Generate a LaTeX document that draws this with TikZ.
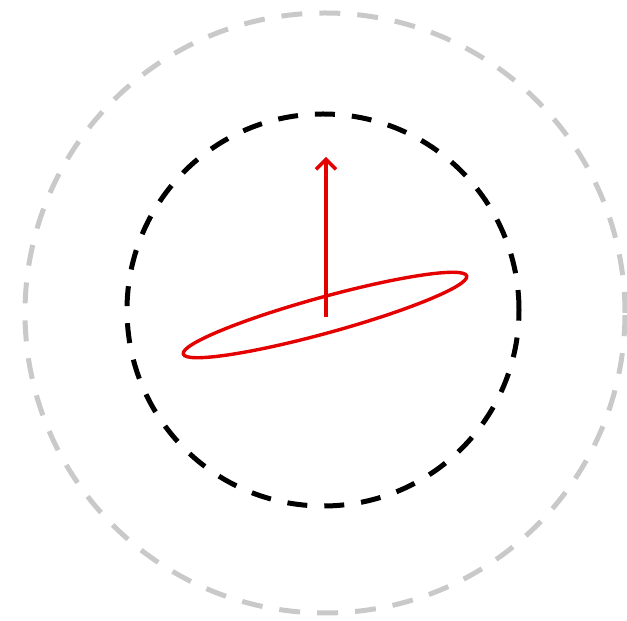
\documentclass[tikz,border=0pt]{standalone}
\usepackage{tikz}
\usetikzlibrary{arrows.meta, calc}

\begin{document}
\begin{tikzpicture}[
  x=1pt, y=1pt,
  outerring/.style={draw=black!21, line width=5pt, dash pattern=on 21pt off 17pt},
  innerring/.style={draw=black, line width=5pt, dash pattern=on 20pt off 17pt},
  orbit/.style={draw=red!90!black, line width=3.4pt},
  arr/.style={-{Straight Barb[length=10pt, width=20pt, line width=3.4pt]}, red!90!black, line width=3.6pt}
]
\useasboundingbox (0,0) rectangle (627,621);

%% ---- centres ----
\coordinate (O)    at (325,308);
\coordinate (I)    at (323,311);
\coordinate (E)    at (325,306);
\coordinate (base) at (326,304);
\coordinate (tip)  at (326,464);

%% ---- rings ----
\draw[outerring] (O) circle (300);
\draw[innerring] (I) circle (196);

%% ---- tilted orbit and axis ----
\draw[orbit, rotate around={15.4:(E)}] (E) ellipse (147 and 18);
\draw[arr] (base) -- (tip);

\end{tikzpicture}
\end{document}
